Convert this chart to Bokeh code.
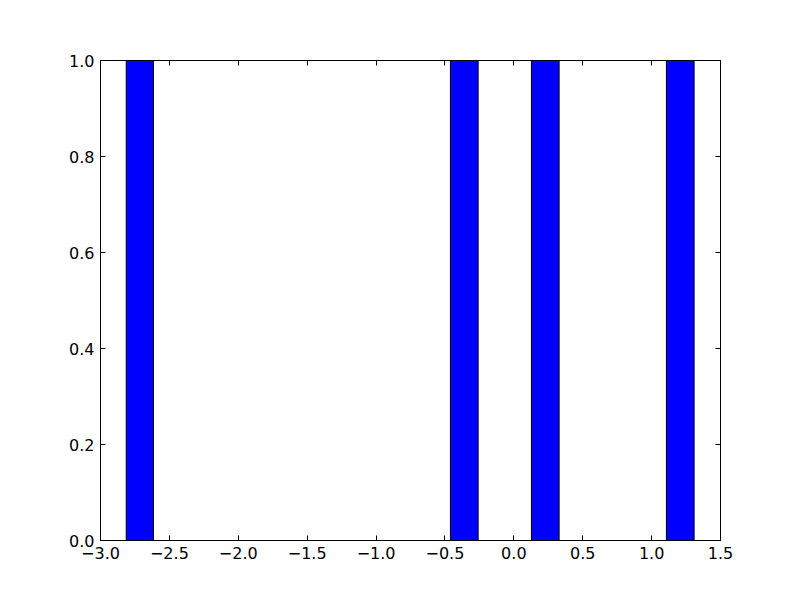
from bokeh.plotting import figure
from bokeh.models import LinearAxis, FixedTicker, Range1d
from bokeh.embed import file_html
from bokeh.resources import INLINE

# histogram bins (left/right edges) and counts
bin_left = [-2.8134, -0.4601, 0.1277, 1.1074]
bin_right = [-2.6155, -0.2591, 0.3287, 1.3084]
counts = [1, 1, 1, 1]

x_ticks = [-3.0, -2.5, -2.0, -1.5, -1.0, -0.5, 0.0, 0.5, 1.0, 1.5]
x_tick_labels = ["\u22123.0", "\u22122.5", "\u22122.0", "\u22121.5", "\u22121.0", "\u22120.5", "0.0", "0.5", "1.0", "1.5"]
y_ticks = [0.0, 0.2, 0.4, 0.6, 0.8, 1.0]
y_tick_labels = ["0.0", "0.2", "0.4", "0.6", "0.8", "1.0"]

FONT = "DejaVu Sans"
FS = "16px"

p = figure(width=784, height=584, frame_width=620, frame_height=480,
           x_range=Range1d(-3.0, 1.5), y_range=Range1d(0.0, 1.0),
           output_backend="svg", toolbar_location=None,
           min_border_left=100, min_border_top=60, min_border_right=64, min_border_bottom=44)

p.quad(left=bin_left, right=bin_right, bottom=[0] * len(counts), top=counts,
       fill_color="#0000ff", line_color="black", line_width=1)

p.xgrid.visible = False
p.ygrid.visible = False
p.outline_line_color = "black"
p.outline_line_width = 1
p.background_fill_color = "white"
p.border_fill_color = "white"

def style(ax, ticks, labels, show_labels=True):
    ax.ticker = FixedTicker(ticks=ticks)
    ax.major_label_overrides = {t: l for t, l in zip(ticks, labels)}
    ax.major_tick_in = 5
    ax.major_tick_out = 0
    ax.minor_tick_line_color = None
    ax.major_tick_line_color = "black"
    ax.axis_line_color = "black"
    ax.major_label_text_font = FONT
    ax.major_label_text_font_size = FS
    ax.major_label_text_color = "black"
    ax.major_label_standoff = 6
    if not show_labels:
        ax.major_label_text_color = None

style(p.xaxis[0], x_ticks, x_tick_labels)
style(p.yaxis[0], y_ticks, y_tick_labels)

top_ax = LinearAxis()
style(top_ax, x_ticks, x_tick_labels, show_labels=False)
p.add_layout(top_ax, "above")
right_ax = LinearAxis()
style(right_ax, y_ticks, y_tick_labels, show_labels=False)
p.add_layout(right_ax, "right")

open("out.html", "w").write(file_html(p, INLINE))
